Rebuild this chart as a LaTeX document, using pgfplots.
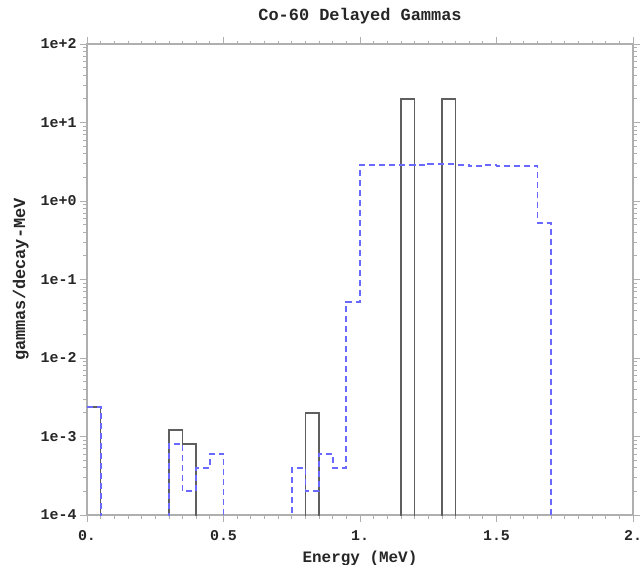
\documentclass[border=0pt]{standalone}
\usepackage{pgfplots}
\pgfplotsset{compat=1.18}
\usepackage{fontspec}
\setmainfont{Liberation Mono}
\setmonofont{Liberation Mono}
\definecolor{histgray}{RGB}{95,95,95}
\definecolor{histblue}{RGB}{105,105,255}
\definecolor{axgray}{RGB}{175,175,175}
\begin{document}
\begin{tikzpicture}
\useasboundingbox (-87bp,-50bp) rectangle (554bp,515bp);
\begin{axis}[
  scale only axis,
  width=546bp, height=471bp,
  xmin=0, xmax=2,
  ymode=log, ymin=1e-4, ymax=1e2,
  xtick={0,0.5,1,1.5,2},
  xticklabels={0.,0.5,1.,1.5,2.},
  minor x tick num=9,
  ytick={1e-4,1e-3,1e-2,1e-1,1,10,100},
  yticklabels={1e-4,1e-3,1e-2,1e-1,1e+0,1e+1,1e+2},
  minor ytick={2e-4,3e-4,4e-4,5e-4,6e-4,7e-4,8e-4,9e-4,
               2e-3,3e-3,4e-3,5e-3,6e-3,7e-3,8e-3,9e-3,
               2e-2,3e-2,4e-2,5e-2,6e-2,7e-2,8e-2,9e-2,
               2e-1,3e-1,4e-1,5e-1,6e-1,7e-1,8e-1,9e-1,
               2,3,4,5,6,7,8,9,
               20,30,40,50,60,70,80,90},
  tick pos=both,
  tick align=outside,
  major tick length=7bp,
  minor tick length=3.5bp,
  axis line style={draw=axgray, line width=1.1pt},
  tick style={draw=axgray, line width=0.8pt},
  ticklabel style={font=\fontsize{15}{17}\selectfont\ttfamily\bfseries, text=black!85},
  xticklabel style={yshift=-5bp},
  /pgf/number format/assume math mode=true,
  xlabel={Energy (MeV)},
  ylabel={gammas/decay-MeV},
  xlabel style={font=\fontsize{16}{18}\selectfont\ttfamily\bfseries, text=black!85, yshift=-3bp},
  ylabel style={font=\fontsize{17}{19}\selectfont\ttfamily\bfseries, text=black!85, yshift=5bp},
  title={Co-60 Delayed Gammas},
  title style={font=\fontsize{17}{19}\selectfont\ttfamily\bfseries, text=black!85, yshift=10bp},
  clip=true,
]
\addplot[const plot mark left, color=histgray, line width=1.7pt] coordinates {
  (0,2.4e-3) (0.05,1e-6) (0.3,1.2e-3) (0.35,8e-4) (0.4,1e-6)
  (0.8,2e-3) (0.85,1e-6) (1.15,20) (1.2,1e-6) (1.3,20) (1.35,1e-6) (2.0,1e-6)
};
\addplot[const plot mark left, color=histblue, line width=1.8pt, dash pattern=on 6bp off 4bp] coordinates {
  (0,2.4e-3) (0.05,1e-6) (0.3,8e-4) (0.35,2e-4) (0.4,4e-4) (0.45,6e-4) (0.5,1e-6)
  (0.75,4e-4) (0.8,2e-4) (0.85,6e-4) (0.9,4e-4) (0.95,5.2e-2)
  (1.0,2.85) (1.1,2.85) (1.2,2.9) (1.25,2.95) (1.3,2.95) (1.35,2.9) (1.4,2.8)
  (1.45,2.9) (1.5,2.8) (1.65,0.52) (1.7,1e-6) (2.0,1e-6)
};
\end{axis}
\end{tikzpicture}
\end{document}
